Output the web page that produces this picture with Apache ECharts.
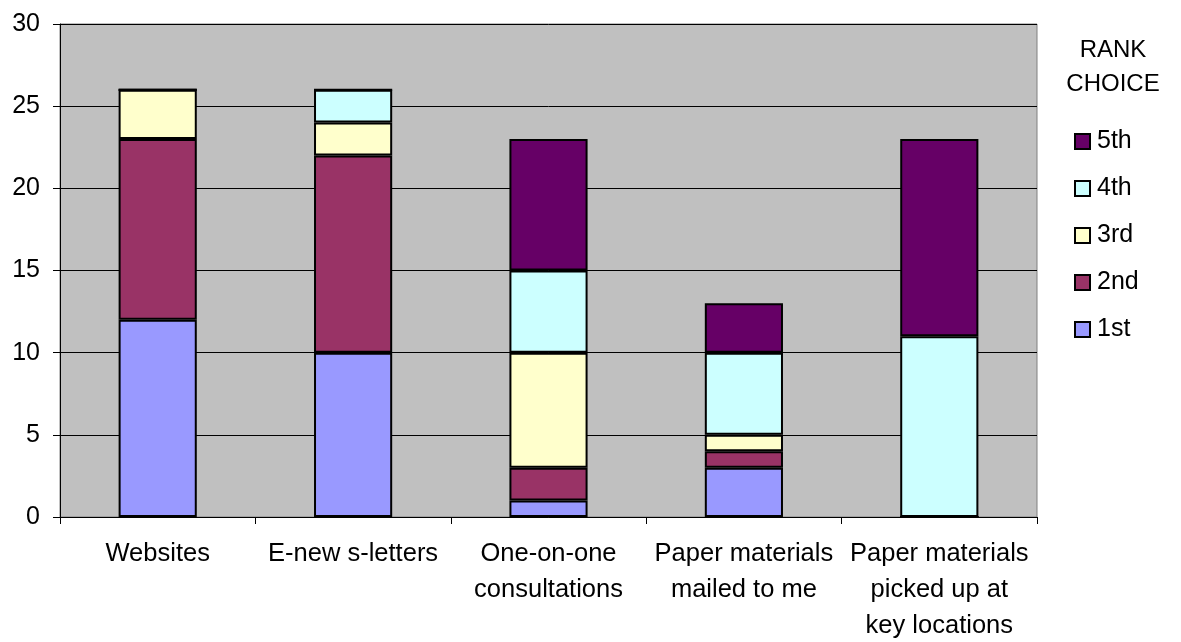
<!DOCTYPE html>
<html>
<head>
<meta charset="utf-8">
<script src="https://cdn.jsdelivr.net/npm/echarts@6/dist/echarts.min.js"></script>
<style>
  html, body { margin: 0; padding: 0; background: #fff; }
  #chart { width: 1181px; height: 642px; }
</style>
</head>
<body>
<div id="chart"></div>
<script>
// Information channels and how many respondents ranked each one 1st..5th
const categories = [
  'Websites',
  'E-new s-letters',
  'One-on-one\nconsultations',
  'Paper materials\nmailed to me',
  'Paper materials\npicked up at\nkey locations'
];
const rankNames = ['1st', '2nd', '3rd', '4th', '5th'];
const first  = [12, 10, 1, 3, 0];
const second = [11, 12, 2, 1, 0];
const third  = [3, 2, 7, 1, 0];
const fourth = [0, 2, 5, 5, 11];
const fifth  = [0, 0, 8, 3, 12];
const yTicks = [0, 5, 10, 15, 20, 25, 30];

const rankValues = [first, second, third, fourth, fifth];
const rankColors = ['#9999FF', '#993366', '#FFFFCC', '#CCFFFF', '#660066'];
const font = '"Liberation Sans", Arial, sans-serif';

const chart = echarts.init(document.getElementById('chart'), null, { renderer: 'canvas' });

chart.setOption({
  animation: false,
  backgroundColor: '#ffffff',
  title: {
    text: 'RANK\nCHOICE',
    left: 1113,
    top: 33,
    padding: 0,
    textAlign: 'center',
    textStyle: {
      fontFamily: font,
      fontSize: 24,
      fontWeight: 'normal',
      color: '#000',
      lineHeight: 34
    }
  },
  legend: {
    orient: 'vertical',
    left: 1074,
    top: 129,
    padding: 0,
    data: rankNames.slice().reverse(),
    icon: 'rect',
    itemWidth: 15,
    itemHeight: 15,
    itemGap: 22,
    itemStyle: { borderColor: '#000', borderWidth: 2 },
    textStyle: {
      fontFamily: font,
      fontSize: 25,
      color: '#000',
      lineHeight: 25,
      padding: [0, 0, 0, 2]
    }
  },
  grid: {
    left: 60,
    right: 144,
    top: 24,
    bottom: 125,
    outerBoundsMode: 'none',
    containLabel: false,
    show: true,
    backgroundColor: '#C0C0C0',
    borderColor: '#808080',
    borderWidth: 1
  },
  xAxis: {
    type: 'category',
    data: categories,
    axisLine: { show: true, lineStyle: { color: '#000', width: 1 } },
    axisTick: { show: true, alignWithLabel: false, length: 7, lineStyle: { color: '#000' } },
    axisLabel: {
      interval: 0,
      margin: 19,
      fontFamily: font,
      fontSize: 25.5,
      color: '#000',
      lineHeight: 36
    }
  },
  yAxis: {
    type: 'value',
    min: yTicks[0],
    max: yTicks[yTicks.length - 1],
    interval: 5,
    axisLine: { show: true, lineStyle: { color: '#000', width: 1 } },
    axisTick: { show: true, length: 7, lineStyle: { color: '#000' } },
    axisLabel: {
      margin: 20,
      fontFamily: font,
      fontSize: 25,
      color: '#000'
    },
    splitLine: { show: true, lineStyle: { color: '#000', width: 1 } }
  },
  series: rankNames.map((name, i) => ({
    name: name,
    type: 'bar',
    stack: 'rank',
    barWidth: '40%',
    data: rankValues[i],
    itemStyle: {
      color: rankColors[i],
      borderColor: '#000',
      borderWidth: 2
    }
  }))
});
</script>
</body>
</html>
